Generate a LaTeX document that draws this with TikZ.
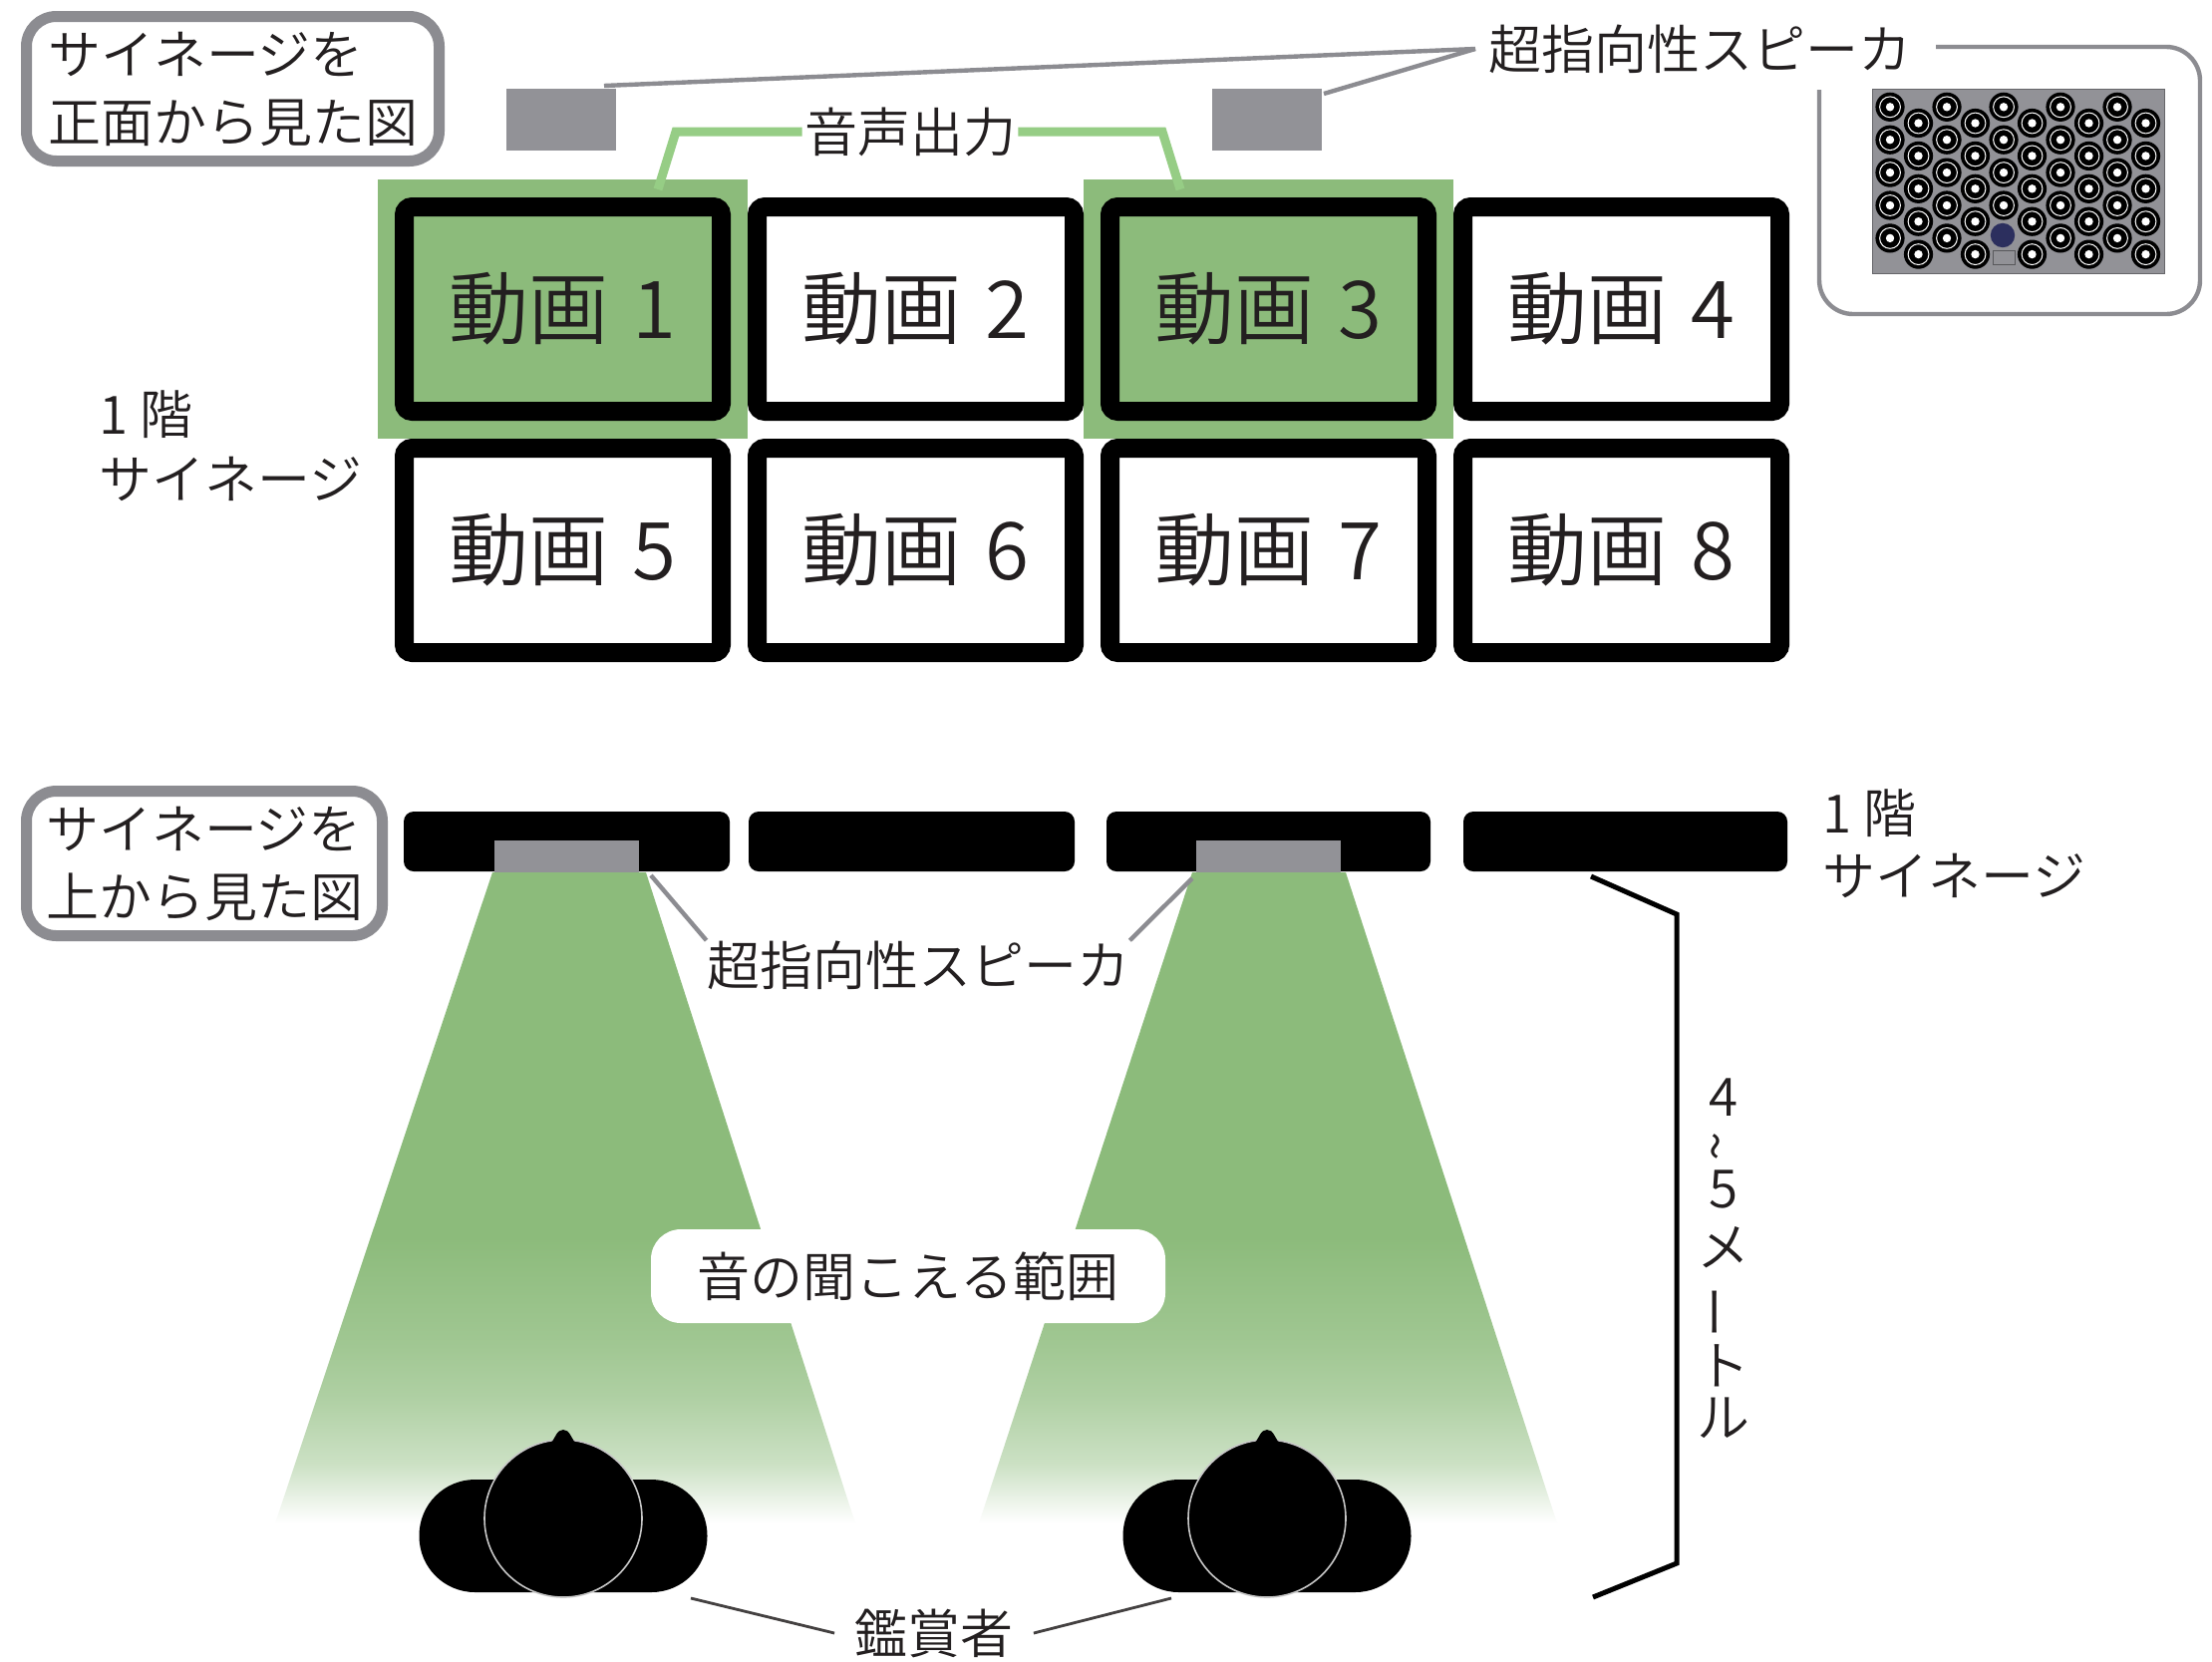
\documentclass[tikz,border=0pt]{standalone}
\usepackage{fontspec}
\IfFontExistsTF{Noto Sans CJK JP DemiLight}
  {\setmainfont{Noto Sans CJK JP DemiLight}}
  {\IfFontExistsTF{Noto Sans CJK JP Light}
    {\setmainfont{Noto Sans CJK JP Light}}
    {\setmainfont{Noto Sans CJK JP}}}
\usetikzlibrary{calc}

\definecolor{ink}{RGB}{35,31,32}
\definecolor{beamgreen}{RGB}{140,187,123}
\definecolor{wiregreen}{RGB}{150,205,133}
\definecolor{spkgray}{RGB}{146,146,151}
\definecolor{framegray}{RGB}{140,140,145}
\definecolor{navy}{RGB}{44,47,94}

% sound beam: solid green that fades to white towards the listeners
\pgfdeclareverticalshading{beamfade}{100bp}{color(0bp)=(white); color(25bp)=(white);
  color(29.65bp)=(beamgreen!45!white); color(34.8bp)=(beamgreen!70!white);
  color(38.65bp)=(beamgreen!82!white); color(47bp)=(beamgreen); color(100bp)=(beamgreen)}

\tikzset{
  lbl/.style={font=\fontsize{26.5pt}{34pt}\selectfont, text=ink, inner sep=0pt},
  vid/.style={draw=black, line width=9.5pt, rounded corners=4pt,
    minimum width=159pt, minimum height=102.5pt, inner sep=0pt,
    font=\fontsize{40pt}{48pt}\selectfont, text=ink},
  viewbox/.style={lbl, draw=framegray, line width=5.5pt, rounded corners=15pt,
    align=left, minimum height=72.5pt},
  leader/.style={draw=framegray, line width=2.2pt},
  audio/.style={draw=wiregreen, line width=4.5pt},
  pointer/.style={draw=ink!85, line width=1.4pt},
  spkbox/.style={fill=spkgray, inner sep=0pt, minimum width=55pt, minimum height=31pt},
  driver/.pic={
    \fill[black] (0,0) circle[radius=7.3pt];
    \draw[white, line width=0.5pt] (0,0) circle[radius=5.2pt];
    \fill[white] (0,0) circle[radius=2.1pt];
  },
  viewer/.pic={
    \fill[black, rounded corners=28pt] (-144.5,-39) rectangle (144.5,74);
    \draw[white!78!black, line width=0.8pt, fill=black] (0,0) circle[radius=39.5pt];
    \fill[black] (-15,-72) .. controls (-7,-81) and (-7,-89) .. (0,-89)
                 .. controls (7,-89) and (7,-81) .. (15,-72) -- cycle;
  },
}

\begin{document}
\begin{tikzpicture}[x=0.5pt,y=-0.5pt]
\useasboundingbox (0,0) rectangle (2219,1666);
\fill[white] (0,0) rectangle (2219,1666);

%% ---------- front view ----------
\node[viewbox, minimum width=207pt] (frontview) at (233.5,89) {サイネージを\\正面から見た図};

% speakers above the screens
\node[spkbox] (sf1) at (563,120) {};
\node[spkbox] (sf2) at (1271,120) {};

% screens that carry audio
\fill[beamgreen] (379,180) rectangle (750,440);
\fill[beamgreen] (1087,180) rectangle (1458,440);

\node[vid, fill=beamgreen] (v1) at (564.5,310) {動画\hspace{0.3em}1};
\node[vid, fill=white]     (v2) at (918.5,310) {動画\hspace{0.3em}2};
\node[vid, fill=beamgreen] (v3) at (1272.5,310) {動画\hspace{0.3em}3};
\node[vid, fill=white]     (v4) at (1626.5,310) {動画\hspace{0.3em}4};
\node[vid, fill=white] (v5) at (564.5,552) {動画\hspace{0.3em}5};
\node[vid, fill=white] (v6) at (918.5,552) {動画\hspace{0.3em}6};
\node[vid, fill=white] (v7) at (1272.5,552) {動画\hspace{0.3em}7};
\node[vid, fill=white] (v8) at (1626.5,552) {動画\hspace{0.3em}8};

% audio output wiring
\node[lbl, inner xsep=1pt] (audioout) at (913,132) {音声出力};
\coordinate (w1) at (660,190);
\coordinate (w3) at (1184,190);
\draw[audio] (w1) -- (678,132) -- (audioout.west);
\draw[audio] (audioout.east) -- (1166,132) -- (w3);

% speaker callout
\node[lbl, anchor=west, inner xsep=6.5pt] (topspk) at (1480,49) {超指向性スピーカ};
\coordinate (sf1tip) at (606,86);
\coordinate (sf2tip) at (1328,94);
\draw[leader] (topspk.west) -- (sf1tip);
\draw[leader] (topspk.west) -- (sf2tip);

% close-up of the speaker array
\draw[framegray, line width=2.2pt, rounded corners=17pt]
  (1825,90) -- (1825,315) -- (2207,315) -- (2207,47) -- (1942,47);
\draw[fill=spkgray, draw=spkgray!70!black, line width=0.5pt] (1878,89) rectangle (2171,274);
\foreach \i in {0,...,9}{
  \foreach \j in {0,...,4}{
    \pgfmathsetmacro{\cx}{1896+28.5*\i}
    \pgfmathsetmacro{\cy}{(mod(\i,2)==0 ? 107.3 : 123.5)+32.9*\j}
    \pgfmathtruncatemacro{\omitdrv}{(\i==4)&&(\j==4)}
    \ifnum\omitdrv=0 \pic at (\cx,\cy) {driver}; \fi
  }
}
\fill[navy] (2009,236) circle[radius=6.1pt];
\draw[fill=spkgray, draw=spkgray!60!black, line width=0.5pt] (1999,251) rectangle (2021,265);

% floor label
\node[lbl, align=left, anchor=west, font=\fontsize{26.5pt}{32.5pt}\selectfont] (floorleft) at (99,447) {1 階\\サイネージ};

%% ---------- top view ----------
\node[viewbox, minimum width=178.5pt] (topview) at (205,866) {サイネージを\\上から見た図};

% sound beams
\shade[shading=beamfade] (494,875) -- (648,875) -- (858,1528) -- (276,1528) -- cycle;
\shade[shading=beamfade] (1196,875) -- (1350,875) -- (1562,1528) -- (982,1528) -- cycle;

\node[lbl, fill=white, rounded corners=15pt, minimum width=258pt, minimum height=47pt] (range) at (911,1280) {音の聞こえる範囲};

% screens seen from above
\fill[black, rounded corners=5pt] (405,814) rectangle (732,874);
\fill[black, rounded corners=5pt] (751,814) rectangle (1078,874);
\fill[black, rounded corners=5pt] (1110,814) rectangle (1435,874);
\fill[black, rounded corners=5pt] (1468,814) rectangle (1793,874);
\fill[spkgray] (496,843) rectangle (641,875);
\fill[spkgray] (1200,843) rectangle (1345,875);

% speaker callout
\node[lbl] (btmspk) at (921,968) {超指向性スピーカ};
\coordinate (bs1) at (653,878);
\coordinate (bs2) at (1196,881);
\draw[leader] (bs1) -- (btmspk.north west);
\draw[leader] (bs2) -- (btmspk.north east);

% listeners
\pic at (565,1523) {viewer};
\pic at (1271,1523) {viewer};
\node[lbl, inner xsep=10pt] (viewers) at (937,1638) {鑑賞者};
\coordinate (p1tip) at (693,1603);
\coordinate (p2tip) at (1175,1603);
\draw[pointer] (p1tip) -- (viewers.west);
\draw[pointer] (p2tip) -- (viewers.east);

% floor label
\node[lbl, align=left, anchor=west, font=\fontsize{26.5pt}{31.5pt}\selectfont] (floorright) at (1828,846) {1 階\\サイネージ};

% distance bracket
\coordinate (k1) at (1596,879);
\coordinate (k2) at (1682,917);
\coordinate (k3) at (1682,1568);
\coordinate (k4) at (1598,1602);
\draw[black, line width=2.5pt] (k1) -- (k2) -- (k3) -- (k4);

% vertical distance text
\node[lbl] (d1) at (1729,1101) {4};
\node[lbl, rotate=90] (d2) at (1729,1150) {\textasciitilde};
\node[lbl] (d3) at (1729,1193) {5};
\node[lbl] (d4) at (1729,1251) {メ};
\node[lbl, rotate=90] (d5) at (1729,1316) {ー};
\node[lbl] (d6) at (1729,1370) {ト};
\node[lbl] (d7) at (1729,1422) {ル};
\end{tikzpicture}
\end{document}
